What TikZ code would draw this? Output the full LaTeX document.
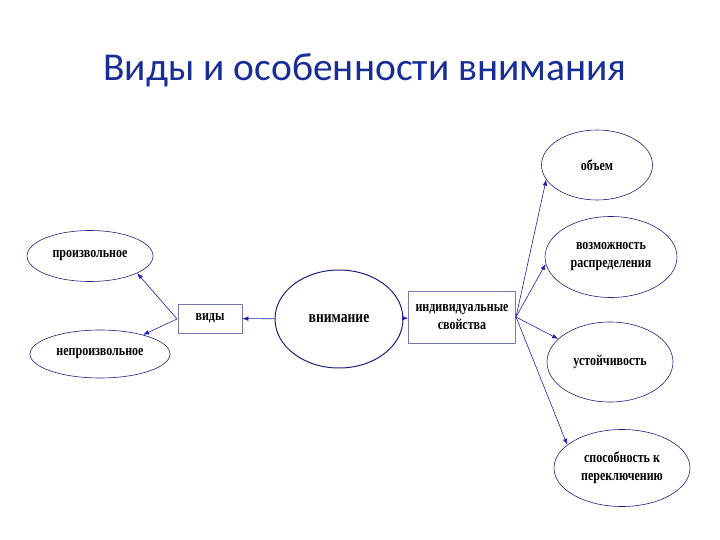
\documentclass[tikz,border=0pt]{standalone}
\usepackage{fontspec}
\setmainfont{Liberation Serif}
\newfontfamily\titlefont{Carlito}
\newfontfamily\labelfont[FakeStretch=0.8]{Liberation Serif Bold}
\usepackage{xcolor}
\usepackage{tikz}
\usetikzlibrary{arrows.meta,shapes.geometric,positioning,calc}

\definecolor{titleblue}{RGB}{25,45,150}
\definecolor{edgenavy}{RGB}{30,30,120}
\definecolor{arrowblue}{RGB}{30,30,180}

\begin{document}
\begin{tikzpicture}[x=1pt,y=-1pt,
		oval/.style={draw=edgenavy, ellipse, line width=0.6pt, inner sep=0pt, align=center, font=\labelfont\fontsize{15}{18}\selectfont},
		boxnode/.style={draw=edgenavy!60, rectangle, line width=0.6pt, inner sep=0pt, align=center, font=\labelfont\fontsize{15}{18}\selectfont},
		link/.style={draw=arrowblue, line width=0.6pt, -{Latex[length=6pt,width=4.5pt]}}]
		\useasboundingbox (0,0) rectangle (720,540);
		\node[font=\titlefont\fontsize{39.5}{44}\selectfont, text=titleblue] (title) at (365,70) {Виды и особенности внимания};

		% left side
		\node[oval, minimum width=126pt, minimum height=51pt] (vol) at (90,256) {произвольное};
		\node[oval, minimum width=140pt, minimum height=48pt] (invol) at (100,354) {непроизвольное};
		\node[boxnode, minimum width=64pt, minimum height=29pt] (types) at (210,318.5) {виды};
		\node[oval, minimum width=128pt, minimum height=98pt, line width=1pt, font=\labelfont\fontsize{17}{20}\selectfont] (attn) at (339,319) {внимание};
		\node[boxnode, minimum width=107pt, minimum height=52pt] (props) at (462,317.5) {индивидуальные\\свойства};

		% right side
		\node[oval, minimum width=111pt, minimum height=70pt] (volume) at (597,165) {объем};
		\node[oval, minimum width=132pt, minimum height=81pt] (distrib) at (611,257) {возможность\\распределения};
		\node[oval, minimum width=126pt, minimum height=80pt] (stable) at (610,362) {устойчивость};
		\node[oval, minimum width=136pt, minimum height=77pt] (switch) at (622,468) {способность к\\переключению};

		\coordinate (tl) at (177,319);
		\coordinate (pr) at (516,317);
		\draw[link] (attn) -- (types);
		\draw[link] (tl) -- (vol.340);
		\draw[link] (tl) -- (invol.24);
		\draw[link] (attn) -- (props);
		\draw[link] (pr) -- (volume.196);
		\draw[link] (pr) -- (distrib.186);
		\draw[link] (pr) -- (stable.156);
		\draw[link] (pr) -- (switch.157);
	\end{tikzpicture}
\end{document}
